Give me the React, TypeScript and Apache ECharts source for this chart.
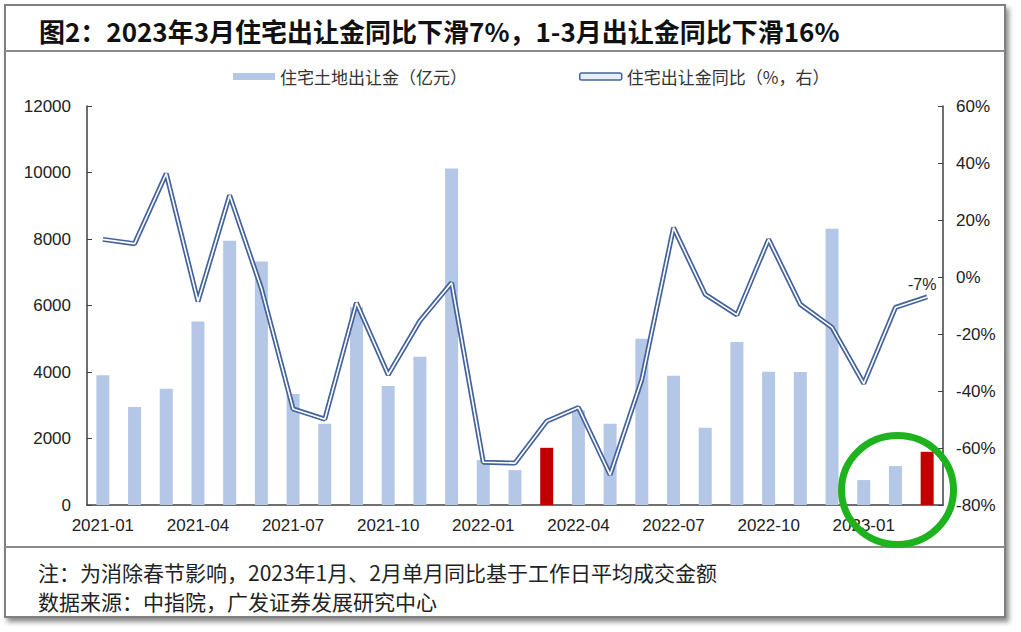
import React, { useEffect, useRef } from "react";
import * as echarts from "echarts";

const months = [
  "2021-01", "2021-02", "2021-03", "2021-04", "2021-05", "2021-06", "2021-07", "2021-08", "2021-09",
  "2021-10", "2021-11", "2021-12", "2022-01", "2022-02", "2022-03", "2022-04", "2022-05", "2022-06",
  "2022-07", "2022-08", "2022-09", "2022-10", "2022-11", "2022-12", "2023-01", "2023-02", "2023-03",
];
const landRevenue = [
  3900, 2950, 3500, 5520, 7950, 7320, 3340, 2440, 5950, 3580, 4460, 10120,
  1350, 1050, 1720, 2850, 2440, 5000, 3890, 2320, 4900, 4010, 4000, 8310,
  750, 1170, 1600,
];
const yoyPct = [
  13.2, 11.7, 36.3, -8.6, 28.7, -4.0, -46.3, -49.9, -9.0, -34.3, -15.4, -2.0,
  -65.0, -65.3, -50.6, -45.8, -69.4, -36.0, 17.3, -6.1, -13.3, 13.2, -9.6, -17.7,
  -37.4, -10.7, -7.0,
];
const highlightMonths = ["2022-03", "2023-03"];
const leftTicks = { min: 0, max: 12000, interval: 2000 };
const rightTicks = { min: -80, max: 60, interval: 20 };

const barName = "住宅土地出让金（亿元）";
const lineName = "住宅出让金同比（%，右）";
const titleText = "图2：2023年3月住宅出让金同比下滑7%，1-3月出让金同比下滑16%";
const note1 = "注：为消除春节影响，2023年1月、2月单月同比基于工作日平均成交金额";
const note2 = "数据来源：中指院，广发证券发展研究中心";

const BAR = "#B4C7E7";
const RED = "#C00000";
const LINE_DARK = "#44639A";
const CJK = "'Noto Sans CJK SC', 'Noto Sans', sans-serif";
const LAT = "'Liberation Sans', Arial, sans-serif";

export default function App() {
  const ref = useRef<HTMLDivElement>(null);
  useEffect(() => {
    if (!ref.current) return;
    const chart = echarts.init(ref.current, undefined, { renderer: "svg" });
    const last = yoyPct.length - 1;
    const innerData = yoyPct.map((v, i) =>
      i === last
        ? {
            value: v,
            label: {
              show: true,
              position: "top",
              distance: 4,
              offset: [-5, 0],
              formatter: "{c}%",
              color: "#222",
              fontSize: 16,
              fontFamily: LAT,
            },
          }
        : v
    );
    chart.setOption({
      animation: false,
      backgroundColor: "#ffffff",
      grid: { left: 87, right: 78, top: 106, bottom: 127, containLabel: false },
      legend: {
        left: 228,
        top: 63,
        itemWidth: 42,
        itemHeight: 7,
        itemGap: 112,
        textStyle: { fontSize: 17, color: "#333", fontFamily: CJK },
        data: [
          { name: barName, icon: "rect", itemStyle: { color: BAR } },
          {
            name: lineName,
            icon: "roundRect",
            itemStyle: { color: "#e8eef7", borderColor: LINE_DARK, borderWidth: 1.5 },
          },
        ],
      },
      xAxis: {
        type: "category",
        data: months,
        axisLine: { lineStyle: { color: "#404040", width: 1.5 } },
        axisTick: { show: false },
        axisLabel: {
          interval: 2,
          margin: 12,
          fontSize: 17,
          color: "#222",
          fontFamily: LAT,
        },
      },
      yAxis: [
        {
          type: "value",
          min: leftTicks.min,
          max: leftTicks.max,
          interval: leftTicks.interval,
          splitLine: { show: false },
          axisLine: { show: true, lineStyle: { color: "#404040", width: 1.5 } },
          axisTick: { show: true, inside: true, length: 5, lineStyle: { color: "#404040" } },
          axisLabel: {
            fontSize: 17,
            color: "#222",
            margin: 16,
            fontFamily: LAT,
            formatter: (v: number) => String(v),
          },
        },
        {
          type: "value",
          min: rightTicks.min,
          max: rightTicks.max,
          interval: rightTicks.interval,
          splitLine: { show: false },
          axisLine: { show: true, lineStyle: { color: "#404040", width: 1.5 } },
          axisTick: { show: true, inside: true, length: 5, lineStyle: { color: "#404040" } },
          axisLabel: {
            fontSize: 17,
            color: "#222",
            margin: 13,
            formatter: "{value}%",
            fontFamily: LAT,
          },
        },
      ],
      series: [
        {
          name: barName,
          type: "bar",
          data: landRevenue,
          barWidth: 13,
          itemStyle: {
            color: (p: any) => (highlightMonths.includes(p.name) ? RED : BAR),
          },
          z: 2,
        },
        {
          name: lineName,
          type: "line",
          yAxisIndex: 1,
          data: yoyPct,
          symbol: "none",
          lineStyle: { color: LINE_DARK, width: 5 },
          itemStyle: { color: LINE_DARK },
          z: 3,
        },
        {
          name: "inner",
          type: "line",
          yAxisIndex: 1,
          data: innerData,
          symbol: "circle",
          symbolSize: 0.1,
          showSymbol: true,
          lineStyle: { color: "#ffffff", width: 1.6 },
          itemStyle: { color: "#ffffff" },
          z: 4,
        },
      ],
      graphic: [
        {
          type: "rect",
          z: -10,
          silent: true,
          shape: { x: 5, y: 5, width: 1000, height: 612 },
          style: {
            fill: "#ffffff",
            stroke: "#7f7f7f",
            lineWidth: 2,
            shadowBlur: 5,
            shadowOffsetX: 3,
            shadowOffsetY: 4,
            shadowColor: "rgba(0,0,0,0.45)",
          },
        },
        {
          type: "line",
          z: 10,
          shape: { x1: 5, y1: 51, x2: 1005, y2: 51 },
          style: { stroke: "#8a8a8a", lineWidth: 2 },
        },
        {
          type: "line",
          z: 10,
          shape: { x1: 5, y1: 547, x2: 1005, y2: 547 },
          style: { stroke: "#8a8a8a", lineWidth: 2 },
        },
        {
          type: "text",
          z: 10,
          x: 39,
          y: 30,
          style: {
            text: titleText,
            fontSize: 26,
            fontWeight: "bold",
            fontFamily: CJK,
            fill: "#111",
            verticalAlign: "middle",
          },
        },
        {
          type: "text",
          z: 10,
          x: 38,
          y: 572,
          style: {
            text: note1,
            fontSize: 21,
            fontFamily: CJK,
            fill: "#222",
            verticalAlign: "middle",
          },
        },
        {
          type: "text",
          z: 10,
          x: 38,
          y: 601,
          style: {
            text: note2,
            fontSize: 21,
            fontFamily: CJK,
            fill: "#222",
            verticalAlign: "middle",
          },
        },
        {
          type: "ellipse",
          z: 20,
          silent: true,
          shape: { cx: 897.5, cy: 490, rx: 56, ry: 54.5 },
          style: { fill: "none", stroke: "#1FB21F", lineWidth: 7 },
        },
      ],
    });
    return () => chart.dispose();
  }, []);
  return (
    <div
      style={{
        position: "fixed",
        left: 0,
        top: 0,
        width: 1021,
        height: 632,
        background: "#ffffff",
      }}
    >
      <div ref={ref} style={{ width: 1021, height: 632 }} />
    </div>
  );
}
